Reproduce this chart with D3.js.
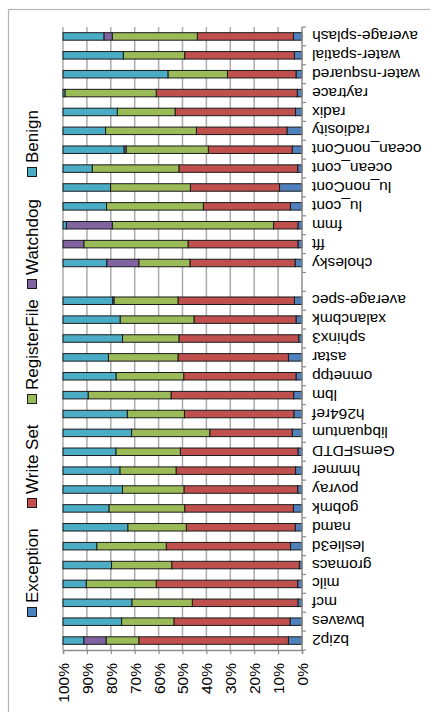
<!DOCTYPE html>
<html>
<head>
<meta charset="utf-8">
<script src="https://cdn.jsdelivr.net/npm/d3@7"></script>
<style>
  body { margin: 0; background: #fff; }
  svg text { font-family: "Liberation Sans", Arial, sans-serif; fill: #000; }
</style>
</head>
<body>
<div id="chart"></div>
<script>
// benchmarks, listed from the bottom bar upwards
var specNames = ["bzip2", "bwaves", "mcf", "milc", "gromacs", "leslie3d", "namd", "gobmk", "povray", "hmmer",
  "GemsFDTD", "libquantum", "h264ref", "lbm", "omnetpp", "astar", "sphinx3", "xalancbmk", "average-spec"];
var splashNames = ["cholesky", "fft", "fmm", "lu_cont", "lu_nonCont", "ocean_cont", "ocean_nonCont", "radiosity",
  "radix", "raytrace", "water-nsquared", "water-spatial", "average-splash"];
var categories = specNames.concat(splashNames);

var seriesNames = ["Exception", "Write Set", "RegisterFile", "Watchdog", "Benign"];
var seriesColors = ["#4F81BD", "#C0504D", "#9BBB59", "#8064A2", "#4BACC6"];

// percentages, same order as categories
var exception = [5.7, 5.0, 1.7, 1.8, 1.1, 4.8, 2.8, 3.6, 1.8, 2.7, 1.7, 4.1, 3.4, 3.5, 2.5, 5.7, 1.4, 2.5, 3.2,
  2.9, 1.7, 1.7, 4.9, 9.4, 1.8, 4.1, 6.3, 2.7, 2.0, 2.5, 3.2, 3.6];
var writeSet = [62.6, 48.6, 44.2, 59.2, 53.4, 52.0, 45.6, 45.5, 47.6, 50.0, 49.2, 34.5, 45.8, 51.3, 47.0, 46.2, 50.1, 42.7, 48.7,
  44.0, 46.0, 10.2, 36.4, 37.3, 49.7, 35.1, 37.9, 50.4, 59.0, 28.7, 45.9, 40.2];
var registerFile = [13.7, 21.9, 25.3, 29.3, 25.2, 29.1, 24.5, 31.7, 25.7, 23.5, 27.0, 32.7, 23.9, 34.7, 28.3, 29.1, 23.6, 30.9, 26.8,
  21.4, 43.6, 67.5, 40.5, 33.4, 36.3, 34.4, 38.0, 24.2, 38.2, 24.9, 25.7, 35.6];
var watchdog = [9.3, 0, 0, 0, 0, 0, 0, 0, 0, 0, 0, 0, 0, 0, 0, 0, 0, 0, 0.5,
  13.4, 8.7, 19.2, 0, 0, 0, 0.9, 0, 0, 0, 0, 0, 3.5];
var benign = [8.7, 24.5, 28.8, 9.7, 20.3, 14.1, 27.1, 19.2, 24.9, 23.8, 22.1, 28.7, 26.9, 10.5, 22.2, 19.0, 24.9, 23.9, 20.8,
  18.3, 0, 1.4, 18.2, 19.9, 12.2, 25.5, 17.8, 22.7, 0.8, 43.9, 25.2, 17.1];

var pctTicks = [0, 0.1, 0.2, 0.3, 0.4, 0.5, 0.6, 0.7, 0.8, 0.9, 1];

var rows = categories.map(function(c, i) {
  return {name: c, "Exception": exception[i], "Write Set": writeSet[i], "RegisterFile": registerFile[i],
    "Watchdog": watchdog[i], "Benign": benign[i]};
});

var W = 430, H = 712;
var plot = {left: 63, right: 302, top: 27, bottom: 650};

var svg = d3.select("#chart").append("svg")
  .attr("width", W)
  .attr("height", H);

// outer frame of the chart area
svg.append("rect")
  .attr("x", 8.5).attr("y", 9.5)
  .attr("width", W).attr("height", H)
  .attr("fill", "none")
  .attr("stroke", "#b4b4b4")
  .attr("stroke-width", 1.2);

// 0% on the right, 100% on the left
var x = d3.scaleLinear().domain([0, 1]).range([plot.right, plot.left]);

// one empty slot between the two benchmark suites
var slots = specNames.concat(["__gap"], splashNames);
var y = d3.scaleBand().domain(slots).range([plot.bottom, plot.top]);
var barH = 7.5;

// vertical gridlines
svg.append("g")
  .selectAll("line")
  .data(pctTicks.slice(1))
  .enter().append("line")
  .attr("x1", function(d) { return x(d); })
  .attr("x2", function(d) { return x(d); })
  .attr("y1", plot.top)
  .attr("y2", plot.bottom)
  .attr("stroke", "#ababab")
  .attr("stroke-width", 1.5);

// stacked bars
var stack = d3.stack().keys(seriesNames).offset(d3.stackOffsetExpand);
var layers = stack(rows);

svg.append("g")
  .selectAll("g")
  .data(layers)
  .enter().append("g")
  .attr("fill", function(d, i) { return seriesColors[i]; })
  .selectAll("rect")
  .data(function(d) { return d.filter(function(p) { return p[1] - p[0] > 0; }); })
  .enter().append("rect")
  .attr("x", function(d) { return x(d[1]); })
  .attr("width", function(d) { return x(d[0]) - x(d[1]); })
  .attr("y", function(d) { return y(d.data.name) + (y.bandwidth() - barH) / 2; })
  .attr("height", barH)
  .attr("stroke", "#1a1a1a")
  .attr("stroke-width", 1);

// percentage axis at the bottom
var xAxis = svg.append("g")
  .attr("transform", "translate(0," + plot.bottom + ")")
  .call(d3.axisBottom(x).tickValues(pctTicks).tickSize(4).tickFormat(d3.format(".0%")));
xAxis.select(".domain").attr("stroke", "#8c8c8c").attr("stroke-width", 1.5);
xAxis.selectAll(".tick line").attr("stroke", "#8c8c8c").attr("stroke-width", 1.2);
xAxis.selectAll(".tick text")
  .attr("font-size", "15.5px")
  .attr("text-anchor", "end")
  .attr("x", 0).attr("y", 0)
  .attr("dy", "0.35em")
  .attr("transform", "translate(0,13) rotate(-90)");

// category axis on the right
var yAxis = svg.append("g")
  .attr("transform", "translate(" + plot.right + ",0)");
yAxis.append("line")
  .attr("y1", plot.top).attr("y2", plot.bottom)
  .attr("stroke", "#8c8c8c").attr("stroke-width", 1.5);
yAxis.selectAll(".tk")
  .data(d3.range(slots.length + 1))
  .enter().append("line")
  .attr("class", "tk")
  .attr("x1", 0).attr("x2", 4)
  .attr("y1", function(i) { return plot.bottom - i * y.step(); })
  .attr("y2", function(i) { return plot.bottom - i * y.step(); })
  .attr("stroke", "#8c8c8c").attr("stroke-width", 1.2);
yAxis.selectAll("text")
  .data(categories)
  .enter().append("text")
  .attr("transform", function(d) {
    return "translate(10," + (y(d) + y.bandwidth() / 2) + ") rotate(180)";
  })
  .attr("text-anchor", "end")
  .attr("dy", "0.35em")
  .attr("font-size", "15.5px")
  .text(function(d) { return d; });

// legend, reading bottom to top
var legendY = [612, 503, 399, 284, 172];
var legend = svg.append("g")
  .selectAll("g")
  .data(seriesNames)
  .enter().append("g")
  .attr("transform", function(d, i) { return "translate(32," + legendY[i] + ")"; });
legend.append("rect")
  .attr("x", -4.5).attr("y", -4.5)
  .attr("width", 9).attr("height", 9)
  .attr("fill", function(d, i) { return seriesColors[i]; })
  .attr("stroke", "#1a1a1a").attr("stroke-width", 1);
legend.append("text")
  .attr("transform", "translate(0,-9) rotate(-90)")
  .attr("dy", "0.36em")
  .attr("font-size", "17px")
  .text(function(d) { return d; });
</script>
</body>
</html>
